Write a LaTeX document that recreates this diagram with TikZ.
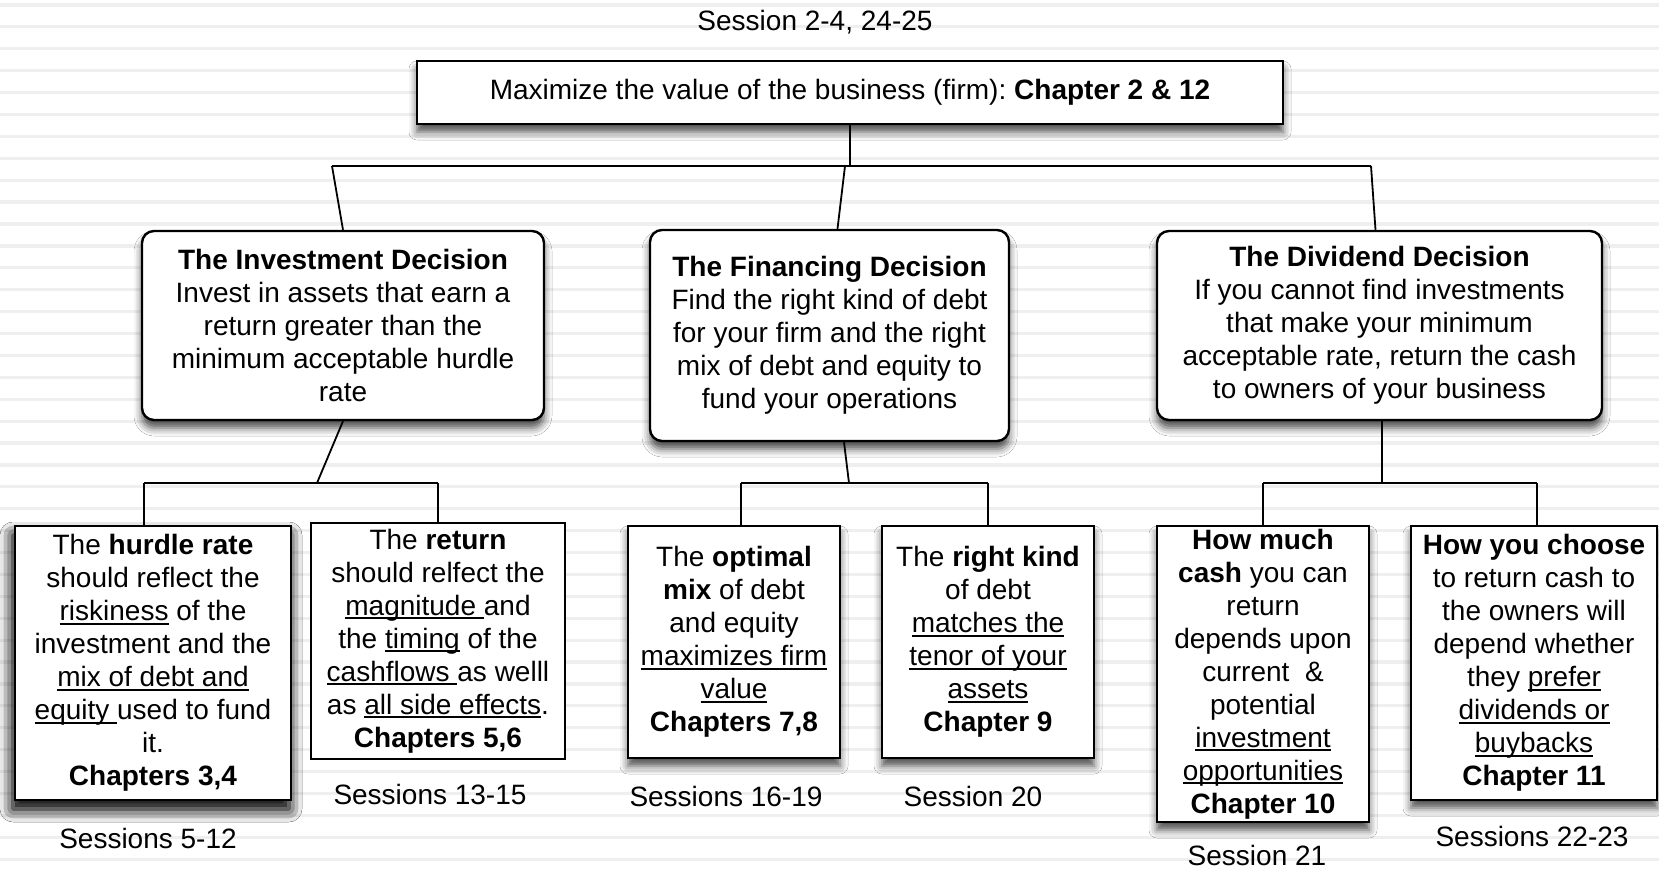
\documentclass[tikz,border=0pt]{standalone}
\usepackage{fontspec}
\setmainfont{Liberation Sans}
\usetikzlibrary{shadows.blur}
\definecolor{stripe}{HTML}{EFEFEF}
\newcommand\myul[1]{\setbox0\hbox{#1}\rlap{\rule[-3.8pt]{\wd0}{1.8pt}}\box0\relax}
\frenchspacing
\begin{document}
\begin{tikzpicture}[x=1pt,y=-1pt,
  font=\fontsize{28}{33}\selectfont\frenchspacing,
  box/.style={draw=black, line width=2.4pt, fill=white, inner sep=0pt, align=center,
    blur shadow={shadow xshift=0pt, shadow yshift=-8pt, shadow blur radius=8pt, shadow opacity=70}},
  plainbox/.style={draw=black, line width=2.4pt, fill=white, inner sep=0pt, align=center},
  rbox/.style={box, rounded corners=12pt},
  lbl/.style={inner sep=0pt},
  conn/.style={draw=black, line width=1.8pt}]
\useasboundingbox (0,0) rectangle (1659,869);
\fill[white] (0,0) rectangle (1659,869);
\foreach \i in {0,...,39} \fill[stripe] (0,{5+21.9*\i-1.6}) rectangle (1659,{5+21.9*\i+1.6});

\node[lbl] (s0) at (815,22) {Session 2-4, 24-25};
\node[box, minimum width=866pt, minimum height=63pt] (top) at (850,92.5)
  {Maximize the value of the business (firm): \textbf{Chapter 2 \& 12}};

\node[rbox, minimum width=402pt, minimum height=189pt] (inv) at (343,325.5)
  {\textbf{The Investment Decision}\\Invest in assets that earn a\\return greater than the\\minimum acceptable hurdle\\rate};
\node[rbox, minimum width=359pt, minimum height=211pt] (fin) at (829.5,335.5)
  {\textbf{The Financing Decision}\\Find the right kind of debt\\for your firm and the right\\mix of debt and equity to\\fund your operations};
\node[rbox, minimum width=445pt, minimum height=189pt] (div) at (1379.5,325.5)
  {\textbf{The Dividend Decision}\\If you cannot find investments\\that make your minimum\\acceptable rate, return the cash\\to owners of your business};

\node[box, blur shadow={shadow xshift=-2pt, shadow yshift=-9pt, shadow blur radius=13pt, shadow opacity=75},
  minimum width=276pt, minimum height=274pt] (b1) at (153,663)
  {The \textbf{hurdle rate}\\should reflect the\\\myul{riskiness} of the\\investment and the\\\myul{mix of debt and}\\\myul{equity\ }used to fund\\it.\\\textbf{Chapters 3,4}};
\node[plainbox, minimum width=254pt, minimum height=236pt] (b2) at (438,641)
  {The \textbf{return}\\should relfect the\\\myul{magnitude\ }and\\the \myul{timing} of the\\\myul{cashflows\ }as welll\\as \myul{all side effects}.\\\textbf{Chapters 5,6}};
\node[box, minimum width=212pt, minimum height=232pt] (b3) at (734,642)
  {The \textbf{optimal}\\\textbf{mix} of debt\\and equity\\\myul{maximizes firm}\\\myul{value}\\\textbf{Chapters 7,8}};
\node[box, minimum width=212pt, minimum height=232pt] (b4) at (988,642)
  {The \textbf{right kind}\\of debt\\\myul{matches the}\\\myul{tenor of your}\\\myul{assets}\\\textbf{Chapter 9}};
\node[box, minimum width=212pt, minimum height=296pt] (b5) at (1263,674)
  {\textbf{How much}\\\textbf{cash} you can\\return\\depends upon\\current \ \&\\potential\\\myul{investment}\\\myul{opportunities}\\\textbf{Chapter 10}};
\node[box, minimum width=246pt, minimum height=274pt] (b6) at (1534,663)
  {\textbf{How you choose}\\to return cash to\\the owners will\\depend whether\\they \myul{prefer}\\\myul{dividends or}\\\myul{buybacks}\\\textbf{Chapter 11}};

\node[lbl] (s1) at (148,838) {Sessions 5-12};
\node[lbl] (s2) at (430,794) {Sessions 13-15};
\node[lbl] (s3) at (726,796) {Sessions 16-19};
\node[lbl] (s4) at (973,796) {Session 20};
\node[lbl] (s5) at (1257,855) {Session 21};
\node[lbl] (s6) at (1532,836) {Sessions 22-23};

% level 1 connectors
\coordinate (h0) at (850,166);
\coordinate (hl) at (332,166);
\coordinate (hr) at (1371,166);
\coordinate (hm) at (845,166);
\draw[conn] (top.south) -- (h0);
\draw[conn] (hl) -- (hr);
\draw[conn] (hl) -- (inv.north);
\draw[conn] (hm) -- ([xshift=8pt]fin.north);
\draw[conn] (hr) -- ([xshift=-4pt]div.north);

% level 2 connectors
\coordinate (ia) at (317,483);
\coordinate (il) at (144,483);
\coordinate (ir) at (438,483);
\draw[conn] (inv.south) -- (ia);
\draw[conn] (il) -- (ir);
\draw[conn] (il) -- (il |- b1.north);
\draw[conn] (ir) -- (b2.north);

\coordinate (fa) at (849,483);
\coordinate (fl) at (741,483);
\coordinate (fr) at (988,483);
\draw[conn] ([xshift=14.5pt]fin.south) -- (fa);
\draw[conn] (fl) -- (fr);
\draw[conn] (fl) -- (fl |- b3.north);
\draw[conn] (fr) -- (b4.north);

\coordinate (da) at (1382,483);
\coordinate (dl) at (1263,483);
\coordinate (dr) at (1537,483);
\draw[conn] ([xshift=2.5pt]div.south) -- (da);
\draw[conn] (dl) -- (dr);
\draw[conn] (dl) -- (b5.north);
\draw[conn] (dr) -- (dr |- b6.north);
\end{tikzpicture}
\end{document}
